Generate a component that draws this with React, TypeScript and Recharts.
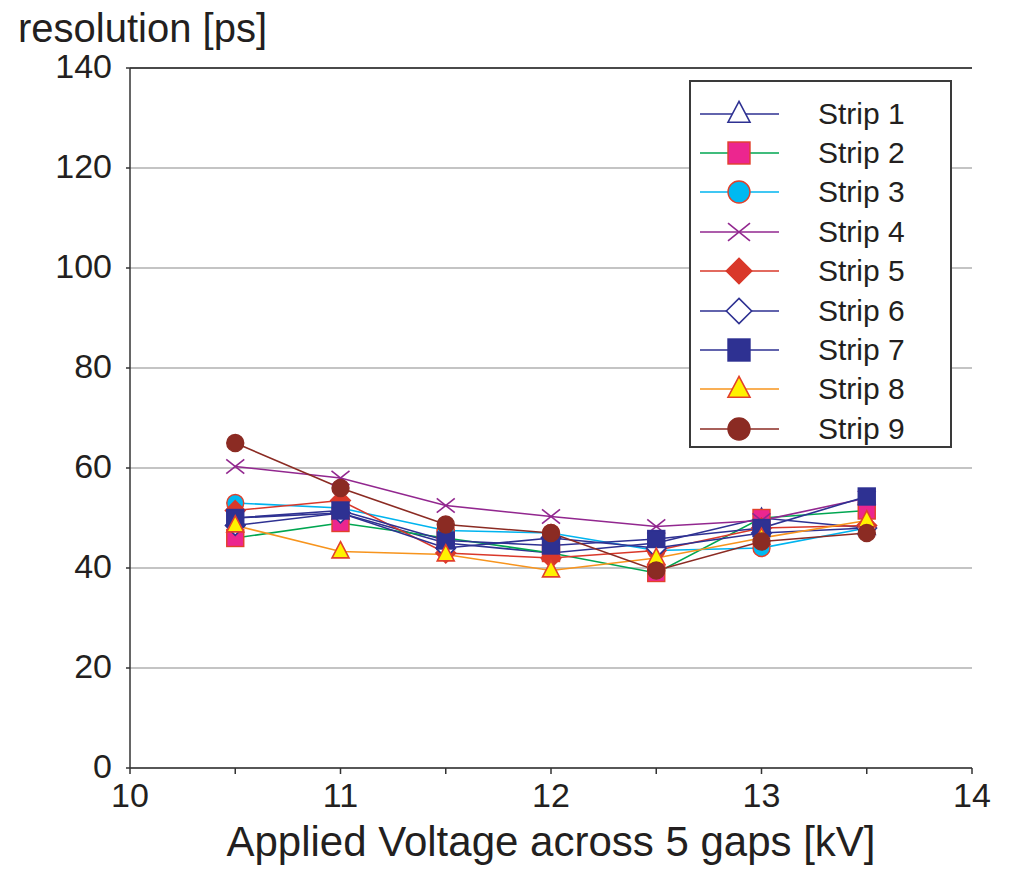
import React from 'react';
import { LineChart, Line, XAxis, YAxis, CartesianGrid, ReferenceLine, Legend } from 'recharts';

const voltages = [10.5, 11, 11.5, 12, 12.5, 13, 13.5];
const strip1 = [50, 51, 45, 43, 45, 50, 48];
const strip2 = [46, 49, 46, 43, 39, 50, 51.5];
const strip3 = [53, 52, 47.5, 47, 43.5, 44, 48];
const strip4 = [60.3, 58, 52.5, 50.3, 48.3, 49.5, 54];
const strip5 = [51.5, 53.5, 43, 42, 43.5, 48, 48.5];
const strip6 = [48.5, 51, 44, 46, 44, 47, 48];
const strip7 = [50, 51.5, 45.5, 44.5, 45.8, 48, 54.3];
const strip8 = [48.5, 43.3, 42.7, 39.5, 42, 46, 49.5];
const strip9 = [65, 56, 48.7, 47, 39.5, 45.3, 47];

const seriesNames = ['Strip 1', 'Strip 2', 'Strip 3', 'Strip 4', 'Strip 5', 'Strip 6', 'Strip 7', 'Strip 8', 'Strip 9'];
const seriesValues = [strip1, strip2, strip3, strip4, strip5, strip6, strip7, strip8, strip9];
const xTicks = [10, 10.5, 11, 11.5, 12, 12.5, 13, 13.5, 14];
const yTicks = [0, 20, 40, 60, 80, 100, 120, 140];

const RED_EDGE = '#e2402b';
const NAVY = '#2e3192';

type Kind = 'triangle' | 'square' | 'circle' | 'cross' | 'diamond';
interface Style { line: string; kind: Kind; fill: string; stroke: string; }
const styles: Style[] = [
  { line: NAVY, kind: 'triangle', fill: '#ffffff', stroke: NAVY },
  { line: '#00a651', kind: 'square', fill: '#ec268f', stroke: RED_EDGE },
  { line: '#00b4ef', kind: 'circle', fill: '#00b9f1', stroke: RED_EDGE },
  { line: '#92278f', kind: 'cross', fill: 'none', stroke: '#92278f' },
  { line: '#d9382a', kind: 'diamond', fill: '#d9382a', stroke: '#d9382a' },
  { line: NAVY, kind: 'diamond', fill: '#ffffff', stroke: NAVY },
  { line: NAVY, kind: 'square', fill: NAVY, stroke: NAVY },
  { line: '#f7941d', kind: 'triangle', fill: '#fff200', stroke: RED_EDGE },
  { line: '#8b2b23', kind: 'circle', fill: '#8b2b23', stroke: '#8b2b23' },
];

const data = voltages.map((v, i) => {
  const row: Record<string, number> = { v };
  seriesValues.forEach((arr, k) => { row[`s${k + 1}`] = arr[i]; });
  return row;
});

const FONT = '"Liberation Sans", Arial, Helvetica, sans-serif';
const TEXT = '#231f20';

function Marker({ kind, cx, cy, r, fill, stroke }: { kind: Kind; cx: number; cy: number; r: number; fill: string; stroke: string }) {
  switch (kind) {
    case 'triangle':
      return <polygon points={`${cx},${cy - r * 1.15} ${cx + r},${cy + r * 0.75} ${cx - r},${cy + r * 0.75}`} fill={fill} stroke={stroke} strokeWidth={1.6} />;
    case 'square':
      return <rect x={cx - r} y={cy - r} width={2 * r} height={2 * r} fill={fill} stroke={stroke} strokeWidth={1.4} />;
    case 'circle':
      return <circle cx={cx} cy={cy} r={r} fill={fill} stroke={stroke} strokeWidth={1.4} />;
    case 'cross':
      return (
        <g stroke={stroke} strokeWidth={1.6}>
          <line x1={cx - r} y1={cy - r * 0.8} x2={cx + r} y2={cy + r * 0.8} />
          <line x1={cx - r} y1={cy + r * 0.8} x2={cx + r} y2={cy - r * 0.8} />
        </g>
      );
    case 'diamond':
      return <polygon points={`${cx},${cy - r * 1.15} ${cx + r * 1.15},${cy} ${cx},${cy + r * 1.15} ${cx - r * 1.15},${cy}`} fill={fill} stroke={stroke} strokeWidth={1.6} />;
  }
  return null;
}

function LegendBox() {
  return (
    <div style={{ width: 263, height: 368, border: '2px solid #3a3a3a', boxSizing: 'border-box', background: '#fff', paddingTop: 12 }}>
      {seriesNames.map((name, i) => {
        const s = styles[i];
        return (
          <div key={name} style={{ display: 'flex', alignItems: 'center', height: 39.4 }}>
            <svg width={120} height={36} style={{ display: 'block', flex: 'none' }}>
              <line x1={9} y1={18} x2={88} y2={18} stroke={s.line} strokeWidth={1.6} />
              <Marker kind={s.kind} cx={48} cy={18} r={11} fill={s.fill} stroke={s.stroke} />
            </svg>
            <span style={{ fontFamily: FONT, fontSize: 30, color: TEXT, marginLeft: 7, lineHeight: '36px' }}>{name}</span>
          </div>
        );
      })}
    </div>
  );
}

export default function App() {
  return (
    <div style={{ position: 'relative', width: 1010, height: 873, margin: -8, background: '#fff', overflow: 'hidden' }}>
      <div style={{ position: 'absolute', left: 0, top: 0, width: 7, height: 873, background: '#a9c3d1' }} />
      <div style={{ position: 'absolute', left: 18, top: 8, fontFamily: FONT, fontSize: 40, color: TEXT, lineHeight: '40px', whiteSpace: 'nowrap' }}>resolution [ps]</div>
      <LineChart width={1010} height={873} data={data} margin={{ top: 68, right: 38, bottom: 0, left: 0 }}>
        <CartesianGrid vertical={false} stroke="#8a8a8a" strokeWidth={1.2} />
        <ReferenceLine y={140} stroke="#222" strokeWidth={1.5} />
        <XAxis
          dataKey="v"
          type="number"
          domain={[10, 14]}
          ticks={xTicks}
          tickFormatter={(v: number) => (Number.isInteger(v) ? String(v) : '')}
          height={105}
          tickSize={6}
          tickMargin={9}
          stroke="#333"
          strokeWidth={1.5}
          tick={{ fill: TEXT, fontSize: 34, fontFamily: FONT }}
          label={{ value: 'Applied Voltage across 5 gaps [kV]', position: 'insideBottom', offset: 17, fill: TEXT, fontSize: 42, fontFamily: FONT }}
        />
        <YAxis
          type="number"
          domain={[0, 140]}
          ticks={yTicks}
          width={130}
          tickSize={4}
          tickMargin={14}
          stroke="#333"
          strokeWidth={1.5}
          tick={{ fill: TEXT, fontSize: 34, fontFamily: FONT, dy: -2 }}
        />
        <Legend
          layout="vertical"
          align="center"
          verticalAlign="middle"
          content={() => <LegendBox />}
          wrapperStyle={{ position: 'absolute', left: 689, top: 80, width: 263, height: 368 }}
        />
        {styles.map((s, i) => (
          <Line
            key={`s${i + 1}`}
            dataKey={`s${i + 1}`}
            name={seriesNames[i]}
            stroke={s.line}
            strokeWidth={1.6}
            isAnimationActive={false}
            dot={(p: any) => (
              <Marker key={`m${i}-${p.index}`} kind={s.kind} cx={p.cx} cy={p.cy} r={s.kind === 'cross' ? 9 : 8.5} fill={s.fill} stroke={s.stroke} />
            )}
            activeDot={false}
          />
        ))}
      </LineChart>
    </div>
  );
}
